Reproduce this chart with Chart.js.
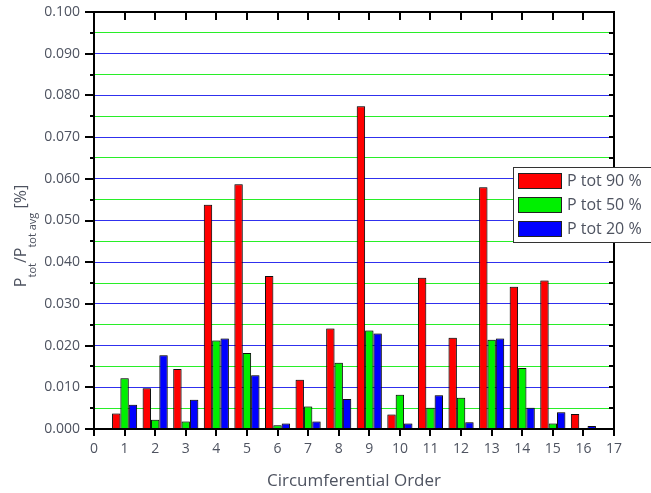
<!DOCTYPE html>
<html>
<head>
<meta charset="utf-8">
<script src="https://cdn.jsdelivr.net/npm/chart.js@4/dist/chart.umd.min.js"></script>
<style>
  html, body { margin: 0; padding: 0; background: #ffffff; }
  #wrap { width: 651px; height: 493px; }
</style>
</head>
<body>
<div id="wrap"><canvas id="c" width="651" height="493"></canvas></div>
<script>
// Circumferential orders and relative total-pressure amplitudes [%]
const orders = [1, 2, 3, 4, 5, 6, 7, 8, 9, 10, 11, 12, 13, 14, 15, 16];
const pTot90 = [0.0037, 0.0098, 0.0144, 0.0538, 0.0587, 0.0367, 0.0118, 0.0241, 0.0774, 0.0035, 0.0363, 0.0219, 0.0580, 0.0341, 0.0356, 0.0036];
const pTot50 = [0.0122, 0.0022, 0.0018, 0.0212, 0.0182, 0.0009, 0.0054, 0.0159, 0.0236, 0.0082, 0.0051, 0.0075, 0.0214, 0.0146, 0.0013, 0.0002];
const pTot20 = [0.0058, 0.0177, 0.0070, 0.0217, 0.0129, 0.0013, 0.0018, 0.0072, 0.0229, 0.0013, 0.0081, 0.0016, 0.0217, 0.0051, 0.0040, 0.0007];
const seriesLabels = ['P tot 90 %', 'P tot 50 %', 'P tot 20 %'];
const seriesColors = ['#ff0000', '#00f000', '#0000ff'];

// Axis ticks
const xTicks = [0, 1, 2, 3, 4, 5, 6, 7, 8, 9, 10, 11, 12, 13, 14, 15, 16, 17];
const yTicks = [0, 0.005, 0.010, 0.015, 0.020, 0.025, 0.030, 0.035, 0.040, 0.045, 0.050,
                0.055, 0.060, 0.065, 0.070, 0.075, 0.080, 0.085, 0.090, 0.095, 0.100];

const FONT = '"Open Sans", "Noto Sans", sans-serif';
const TEXT = '#4e5360';

const isMajor = v => Math.round(v * 1000) % 10 === 0;

const series = [pTot90, pTot50, pTot20].map((vals, i) => ({
  label: seriesLabels[i],
  data: orders.map((o, k) => ({ x: o, y: vals[k] })),
  backgroundColor: seriesColors[i],
  borderColor: '#111111',
  borderWidth: 1,
  borderSkipped: 'start',
  categoryPercentage: 0.82,
  barPercentage: 1.0
}));

// Soft grey halo around the bars
const barHalo = {
  id: 'barHalo',
  beforeDatasetsDraw(chart) {
    const ctx = chart.ctx;
    ctx.save();
    ctx.shadowColor = 'rgba(0,0,0,0.45)';
    ctx.shadowBlur = 2;
  },
  afterDatasetsDraw(chart) {
    chart.ctx.restore();
  }
};

// Frame with tick marks on all four sides
const frame = {
  id: 'frame',
  afterDatasetsDraw(chart) {
    const { ctx, chartArea: a, scales: { x, y } } = chart;
    ctx.save();
    ctx.strokeStyle = '#000000';
    ctx.lineWidth = 2;
    ctx.strokeRect(a.left, a.top, a.right - a.left, a.bottom - a.top);
    ctx.beginPath();
    xTicks.forEach(v => {
      const px = Math.round(x.getPixelForValue(v));
      ctx.moveTo(px, a.bottom); ctx.lineTo(px, a.bottom + 7);   // bottom, outward
      ctx.moveTo(px, a.top); ctx.lineTo(px, a.top + 8);         // top, inward
    });
    yTicks.forEach(v => {
      const py = Math.round(y.getPixelForValue(v));
      const len = isMajor(v) ? 9 : 4;
      ctx.moveTo(a.left - len, py); ctx.lineTo(a.left, py);     // left, outward
      ctx.moveTo(a.right - 5, py); ctx.lineTo(a.right, py);     // right, inward
    });
    ctx.stroke();
    ctx.restore();
  }
};

// Boxed legend and the y-axis title with subscripts
const annotations = {
  id: 'annotations',
  afterDraw(chart) {
    const ctx = chart.ctx;
    ctx.save();

    // legend
    const bx = 513.5, by = 167.5;
    ctx.fillStyle = '#ffffff';
    ctx.fillRect(bx, by, 160, 75);
    ctx.strokeStyle = '#333333';
    ctx.lineWidth = 1;
    ctx.strokeRect(bx, by, 160, 75);
    chart.data.datasets.forEach((ds, i) => {
      const ry = 173 + i * 24;
      ctx.fillStyle = ds.backgroundColor;
      ctx.fillRect(518, ry, 44, 16);
      ctx.strokeStyle = '#222222';
      ctx.strokeRect(518.5, ry + 0.5, 43, 15);
      ctx.fillStyle = TEXT;
      ctx.font = '16px ' + FONT;
      ctx.textBaseline = 'middle';
      ctx.textAlign = 'left';
      ctx.fillText(ds.label, 567, ry + 8.5);
    });

    // y-axis title: P_tot / P_tot avg [%]
    const parts = [
      { t: 'P', s: 16, dy: 0 },
      { t: 'tot', s: 11, dy: 10 },
      { t: '/P', s: 16, dy: 0 },
      { t: 'tot avg', s: 11, dy: 10 },
      { t: ' [%]', s: 16, dy: 0 }
    ];
    let total = 0;
    parts.forEach(p => { ctx.font = p.s + 'px ' + FONT; p.w = ctx.measureText(p.t).width; total += p.w; });
    ctx.translate(26, 236);
    ctx.rotate(-Math.PI / 2);
    ctx.fillStyle = TEXT;
    ctx.textBaseline = 'alphabetic';
    ctx.textAlign = 'left';
    let cx = -total / 2;
    parts.forEach(p => {
      ctx.font = p.s + 'px ' + FONT;
      ctx.fillText(p.t, cx, p.dy);
      cx += p.w;
    });
    ctx.restore();
  }
};

new Chart(document.getElementById('c'), {
  type: 'bar',
  data: { datasets: series },
  plugins: [barHalo, frame, annotations],
  options: {
    responsive: false,
    animation: false,
    devicePixelRatio: 1,
    layout: { padding: { top: 12, right: 37, bottom: 0, left: 0 } },
    plugins: { legend: { display: false }, tooltip: { enabled: false } },
    scales: {
      x: {
        type: 'linear',
        min: 0,
        max: 17,
        offset: false,
        afterBuildTicks: s => { s.ticks = xTicks.map(v => ({ value: v })); },
        afterFit: s => { s.height = 64; s.paddingLeft = 0; s.paddingRight = 0; },
        grid: { display: false, drawTicks: false },
        border: { display: false },
        ticks: {
          autoSkip: false, maxRotation: 0, padding: 12,
          color: TEXT, font: { family: FONT, size: 14 },
          callback: v => String(v)
        },
        title: {
          display: true, text: 'Circumferential Order',
          color: TEXT, font: { family: FONT, size: 17 },
          padding: { top: 0, bottom: 2 }
        }
      },
      y: {
        min: 0,
        max: 0.1,
        afterBuildTicks: s => { s.ticks = yTicks.map(v => ({ value: v })); },
        afterFit: s => { s.width = 94; s.paddingTop = 0; s.paddingBottom = 0; },
        grid: {
          drawTicks: false,
          lineWidth: 1,
          color: c => {
            const v = c.tick ? c.tick.value : 0;
            if (v <= 0 || v >= 0.1) return 'rgba(0,0,0,0)';
            return isMajor(v) ? '#3030ee' : '#28ee28';
          }
        },
        border: { display: false },
        ticks: {
          autoSkip: false, padding: 14,
          color: TEXT, font: { family: FONT, size: 14 },
          callback: v => (isMajor(v) ? v.toFixed(3) : '')
        }
      }
    }
  }
});
</script>
</body>
</html>
